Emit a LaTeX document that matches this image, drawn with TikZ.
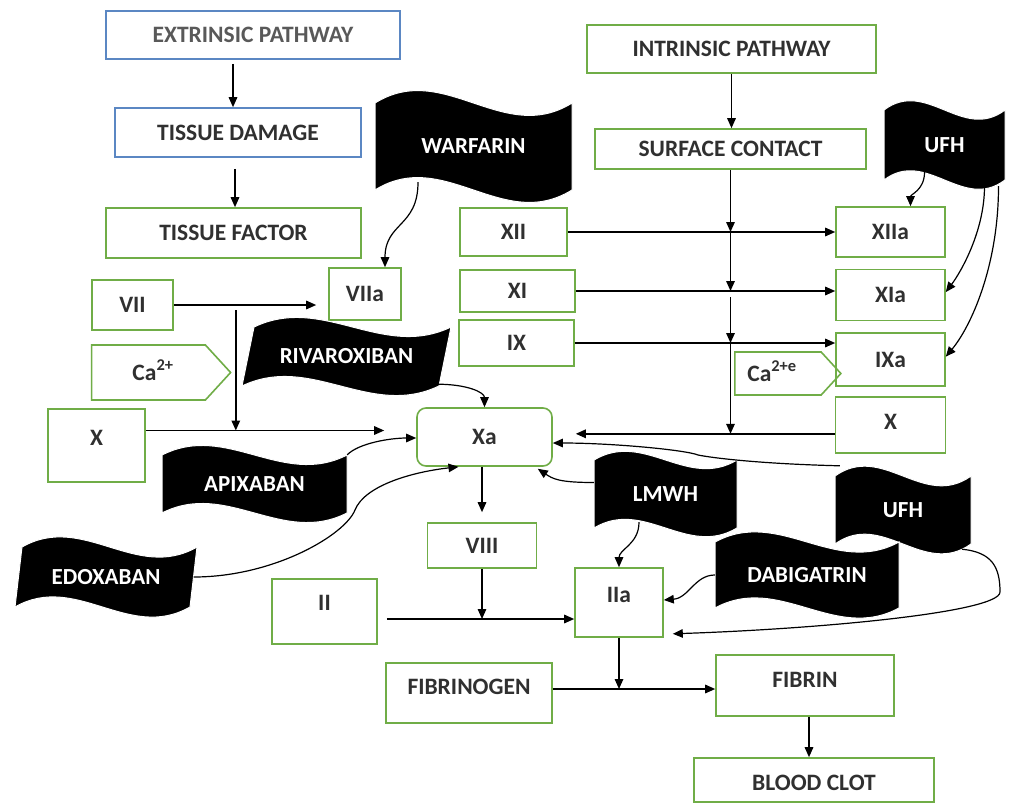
\documentclass[tikz,border=0pt]{standalone}
\usepackage{fontspec}
\setmainfont{Carlito}
\usetikzlibrary{positioning,shapes.symbols,arrows.meta}

\definecolor{vertcadre}{HTML}{70AD47}
\definecolor{bleucadre}{HTML}{5B87C3}
\definecolor{encre}{HTML}{303030}
\definecolor{grisencre}{HTML}{595959}

\tikzstyle{cadre}=[rectangle,draw=vertcadre,line width=1.6pt,text=encre,font=\fontsize{23.5}{27}\selectfont\bfseries,inner sep=0pt,text height=15pt,text depth=0pt]
\tikzstyle{cadrebleu}=[cadre,draw=bleucadre]
\tikzstyle{signe}=[cadre,signal,signal to=east,signal pointer angle=95]
\tikzstyle{drapeautexte}=[inner sep=0pt,text=white,font=\fontsize{23}{27}\selectfont\bfseries]
\tikzstyle{fleche}=[->,line width=1.5pt]
\tikzstyle{courbe}=[->,line width=1.2pt]

% drapeau : nom, x gauche, y haut, largeur, hauteur, vague, biais, texte
\newcommand{\drapeau}[8]{%
  \fill[black,draw=white,line width=1pt] ({#2+#7},#3)
    .. controls +({0.35*#4},{-#6}) and +({-0.35*#4},{#6}) .. ++(#4,0)
    -- ++({-(#7)},#5)
    .. controls +({-0.35*#4},{#6}) and +({0.35*#4},{-#6}) .. ++({-(#4)},0)
    -- cycle;
  \node[drapeautexte,minimum width=#4,minimum height=#5] (#1) at ({#2+#4/2+#7/2},{#3+#5/2}) {#8};
}

\begin{document}
\begin{tikzpicture}[x=1pt,y=-1pt,>={Triangle[length=10pt,width=8.5pt]}]
\fill[white] (0,0) rectangle (1012,803);
\useasboundingbox (0,0) rectangle (1012,803);

\node[cadrebleu,text=grisencre,minimum width=294,minimum height=48] (A10) at (253,35) {EXTRINSIC PATHWAY};
\node[cadrebleu,minimum width=246,minimum height=49] (A20) at (238,132.5) {TISSUE DAMAGE};
\node[cadre,minimum width=255,minimum height=50] (A30) at (233.5,233) {TISSUE FACTOR};
\node[cadre,minimum width=81,minimum height=50] (A40) at (132.5,305) {VII};
\node[cadre,minimum width=72,minimum height=52] (A41) at (365,294) {VIIa};
\node[signe,minimum width=139,minimum height=55] (A50) at (148.5,372.5) {\hspace*{9pt}Ca\textsuperscript{2+}};
\node[cadre,minimum width=97,minimum height=73,text depth=15pt] (A60) at (96.5,445.5) {X};

\node[cadre,minimum width=289,minimum height=48] (B10) at (731.5,49) {INTRINSIC PATHWAY};
\node[cadre,minimum width=271,minimum height=40] (B20) at (730.5,149) {SURFACE CONTACT};
\node[cadre,minimum width=107,minimum height=48] (B30) at (513.5,232) {XII};
\node[cadre,minimum width=109,minimum height=50] (B31) at (890.5,232) {XIIa};
\node[cadre,minimum width=115,minimum height=42] (B40) at (517.5,291) {XI};
\node[cadre,minimum width=109,minimum height=51] (B41) [below=11pt of B31] {XIa};
\node[cadre,minimum width=115,minimum height=46] (B50) at (516.5,343) {IX};
\node[cadre,minimum width=109,minimum height=53] (B51) [below=11pt of B41] {IXa};
\node[signe,minimum width=106,minimum height=43] (B60) at (778,373.5) {Ca\textsuperscript{2+e}\hspace*{12pt}};
\node[cadre,minimum width=110,minimum height=56,text depth=6pt] (B70) [below=9pt of B51] {X};

\node[cadre,rounded corners=9pt,minimum width=135,minimum height=58] (C10) at (484.5,437) {Xa};
\node[cadre,minimum width=109,minimum height=45] (C20) at (482,545.5) {VIII};
\node[cadre,minimum width=105,minimum height=65,text depth=17pt] (C30) at (324.5,611.5) {II};
\node[cadre,minimum width=88,minimum height=69,text depth=15pt] (C31) at (619,602.5) {IIa};
\node[cadre,minimum width=166,minimum height=60,text depth=12pt] (C40) at (469,693) {FIBRINOGEN};
\node[cadre,minimum width=178,minimum height=61,text depth=11pt] (C41) at (805,685.5) {FIBRIN};
\node[cadre,minimum width=240,minimum height=44,text height=21pt] (C50) at (814,780) {BLOOD CLOT};

\drapeau{D10}{375}{103}{197}{87}{43}{0}{WARFARIN}
\drapeau{D11}{884}{110}{121}{70}{32}{0}{UFH}
\drapeau{D20}{242}{327}{197}{59}{33}{12}{RIVAROXIBAN}
\drapeau{D30}{162}{455}{185}{58}{33}{0}{APIXABAN}
\drapeau{D40}{15}{547}{175}{60}{35}{7}{EDOXABAN}
\drapeau{D50}{594}{460}{143}{68}{30}{0}{LMWH}
\drapeau{D51}{835}{476}{136}{68}{34}{0}{UFH}
\drapeau{D60}{715}{542}{184}{66}{35}{0}{DABIGATRIN}

\coordinate (auxA60) at ([yshift=15pt]A60.east);
\coordinate (auxB70) at ([yshift=-9pt]B70.west);
\coordinate (auxC30) at ([xshift=9pt,yshift=-7.5pt]C30.east);
\coordinate (auxC40) at ([yshift=4pt]C40.east);
\coordinate (auxD40) at (355,510);
\coordinate (auxD51) at (1000,592);
\coordinate (auxD50) at (698,455);

\draw[fleche] ([xshift=-20pt,yshift=-4pt]A10.south) -- ([xshift=-20pt]A10.south |- A20.north);
\draw[fleche] ([xshift=-3pt,yshift=-11pt]A20.south) -- ([xshift=-3pt]A20.south |- A30.north);
\draw[fleche] (A40.east) -- ([xshift=-12pt]A41.west |- A40.east);
\draw[fleche] ([xshift=62pt,yshift=-5pt]A40.east) -- ([xshift=62pt]A40.east |- auxA60);
\draw[fleche] (auxA60) -- ([xshift=-32pt]auxA60 -| C10.west);

\draw[fleche] (B10.south) -- (B10.south |- B20.north);
\draw[fleche] (B20.south) -- (B20.south |- B30.east);
\draw[fleche] (B20.south |- B30.east) -- (B20.south |- B40.east);
\draw[fleche] ([yshift=-6pt]B20.south |- B40.east) -- (B20.south |- B50.east);
\draw[fleche] (B20.south |- B50.east) -- (B20.south |- auxB70);
\draw[fleche] (B30.east) -- (B30.east -| B31.west);
\draw[fleche] (B40.east) -- (B40.east -| B41.west);
\draw[fleche] (B50.east) -- (B50.east -| B51.west);
\draw[fleche] (auxB70) -- ([xshift=23pt]auxB70 -| C10.east);

\draw[fleche] (C10.south -| C20.north) -- ([yshift=10pt]C20.north);
\draw[fleche] (C20.south) -- (C20.south |- auxC30);
\draw[fleche] (auxC30) -- (auxC30 -| C31.west);
\draw[fleche] (C31.south) -- (C31.south |- auxC40);
\draw[fleche] (auxC40) -- (auxC40 -| C41.west);
\draw[fleche] ([xshift=4pt]C41.south) -- ([xshift=4pt]C41.south |- C50.north);

\draw[courbe] ([xshift=-55.5pt,yshift=8pt]D10.south) .. controls +(0,45) and +(0,-45) .. ([xshift=20pt]A41.north);
\draw[courbe] ([xshift=-20pt,yshift=8pt]D11.south) .. controls +(0,18) and +(0,-12) .. ([xshift=20pt]B31.north);
\draw[courbe] ([xshift=40pt,yshift=-6pt]D11.south) .. controls +(0,45) and +(15,-20) .. ([yshift=3pt]B41.east);
\draw[courbe] ([xshift=54pt,yshift=-6pt]D11.south) .. controls +(0,80) and +(25,-30) .. ([yshift=3pt]B51.east);
\draw[courbe] ([xshift=90.5pt,yshift=2pt]D20.south) .. controls +(30,0) and +(0,-15) .. (C10.north);
\draw[courbe] (D30.north east) .. controls +(12,-12) and +(-25,0) .. ([yshift=-1pt]C10.west);
\draw[courbe] (D40.east) .. controls +(80,0) and +(-10,25) .. (auxD40) .. controls +(10,-25) and +(-45,5) .. ([xshift=-26pt]C10.south);
\draw[courbe] ([yshift=11.5pt]D50.west) .. controls +(-35,0) and +(15,10) .. ([xshift=-15pt,yshift=-2pt]C10.south east);
\draw[courbe] ([xshift=-26.5pt,yshift=6pt]D50.south) .. controls +(0,22) and +(0,-18) .. (C31.north);
\draw[courbe] (D60.west) .. controls +(-20,0) and +(25,-2) .. ([yshift=2.5pt]C31.east);
\draw[courbe] ([xshift=59pt,yshift=-5pt]D51.south) .. controls +(30,3) and +(0,-25) .. (auxD51) .. controls +(0,20) and +(150,-5) .. ([xshift=9pt,yshift=4pt]C31.south east);
\draw[courbe] ([xshift=5pt,yshift=10pt]D51.north west) .. controls +(-80,-2) and +(15,3) .. (auxD50) .. controls +(-12,-5) and +(60,0) .. ([yshift=-6pt]C10.east);

\end{tikzpicture}
\end{document}
